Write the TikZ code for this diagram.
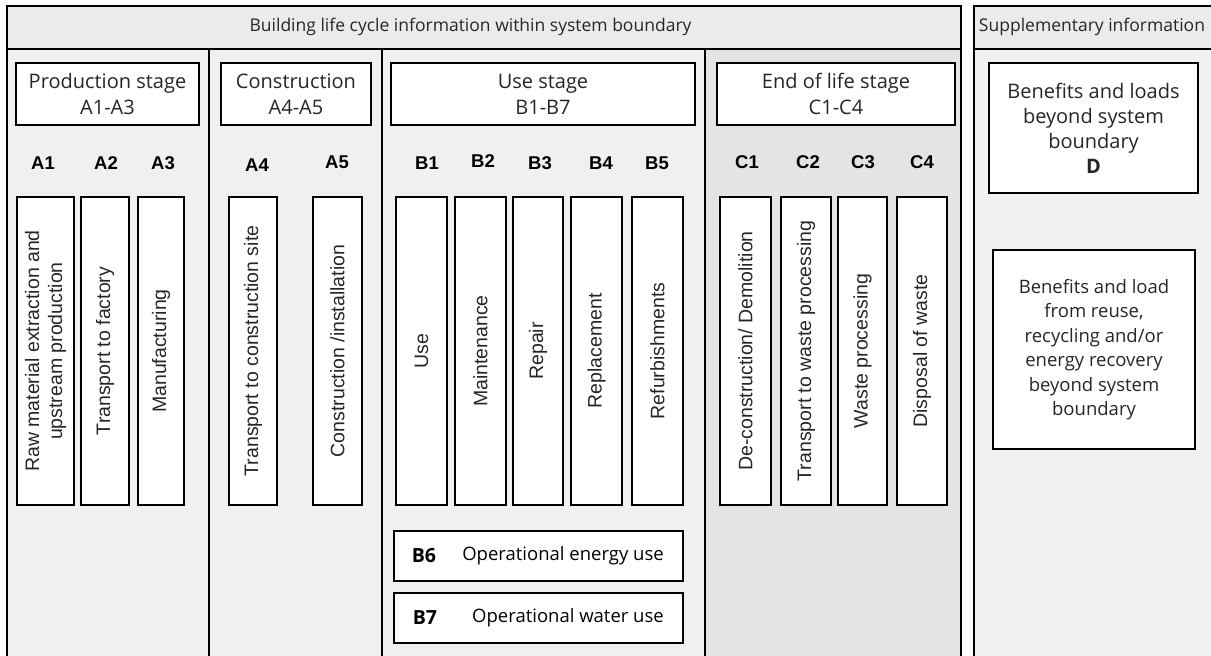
\documentclass[tikz,border=0pt]{standalone}
\usepackage{fontspec}
\setmainfont{Open Sans}
\newfontfamily\arialf{Liberation Sans}
\definecolor{colH}{HTML}{EBEBEB}
\definecolor{colA}{HTML}{F0F0F0}
\definecolor{colC}{HTML}{E4E4E4}
\definecolor{colS}{HTML}{F1F1F1}
\tikzset{
  lw/.style={line width=2pt, draw=black},
  wbox/.style={draw=black, line width=2pt, fill=white, inner sep=0pt, outer sep=0pt},
  stagetxt/.style={font=\fontsize{20}{26}\selectfont, align=center, inner sep=0pt},
  hdrtxt/.style={font=\fontsize{17.5}{21}\selectfont, inner sep=0pt, text=black!85},
  code/.style={font=\arialf\bfseries\fontsize{18.5}{20}\selectfont, inner sep=0pt},
  vbox/.style={wbox, rotate=90, minimum width=308pt, align=center,
     font=\arialf\fontsize{19.5}{23}\selectfont, text=black!85},
  optxt/.style={font=\fontsize{18.5}{22}\selectfont, inner sep=0pt},
  opcode/.style={font=\bfseries\fontsize{19.5}{22}\selectfont, inner sep=0pt},
  dtxt/.style={font=\fontsize{20}{25}\selectfont, align=center, inner sep=0pt},
  btxt/.style={font=\fontsize{18.5}{24.5}\selectfont, align=center, inner sep=0pt},
}
\begin{document}
\begin{tikzpicture}[x=1pt,y=-1pt]
\useasboundingbox (0,0) rectangle (1211,656);
\clip (0,0) rectangle (1211,656);
% backgrounds
\fill[colH] (7,6) rectangle (961,49);
\fill[colA] (7,49) rectangle (705,670);
\fill[colC] (705,49) rectangle (961,670);
\fill[colH] (974,6) rectangle (1220,49);
\fill[colS] (974,49) rectangle (1220,670);
% frame lines
\draw[lw] (7,670) -- (7,6) -- (961,6) -- (961,670);
\draw[lw] (7,49) -- (961,49);
\draw[lw] (209,49) -- (209,670);
\draw[lw] (382,49) -- (382,670);
\draw[lw] (705,49) -- (705,670);
\draw[lw] (974,670) -- (974,6) -- (1220,6);
\draw[lw] (974,49) -- (1220,49);
% headers
\node[hdrtxt] (hmain) at (470.5,27) {Building life cycle information within system boundary};
\node[hdrtxt] (hsupp) at (1092,27) {Supplementary information};
% stage boxes
\node[wbox, minimum width=183pt, minimum height=62pt] (prod) at (107.5,94) {};
\node[stagetxt, text=black!85] (prodt) at (prod.center) {Production stage\\A1-A3};
\node[wbox, minimum width=150pt, minimum height=62pt] (cons) at (296,94) {};
\node[stagetxt, text=black!85] (const) at (cons.center) {Construction\\A4-A5};
\node[wbox, minimum width=304pt, minimum height=62pt] (use) at (543,94) {};
\node[stagetxt, text=black!85] (uset) at (use.center) {Use stage\\B1-B7};
\node[wbox, minimum width=238pt, minimum height=62pt] (eol) at (836,94) {};
\node[stagetxt, text=black!85] (eolt) at (eol.center) {End of life stage\\C1-C4};
\node[wbox, minimum width=209pt, minimum height=130pt] (dbox) at (1093.5,128) {};
\node[dtxt, text=black!85] (dboxt) at (dbox.center) {Benefits and loads\\beyond system\\boundary\\\textbf{D}};
\node[wbox, minimum width=202pt, minimum height=199pt] (bbox) at (1094,349.5) {};
\node[btxt, text=black!85] (bboxt) at (bbox.center) {Benefits and load\\from reuse,\\recycling and/or\\energy recovery\\beyond system\\boundary};
% module codes
\node[code] (lA1) at (43,163) {A1};
\node[code] (lA2) at (106,163) {A2};
\node[code] (lA3) at (163,163) {A3};
\node[code] (lA4) at (257,165) {A4};
\node[code] (lA5) at (337,162) {A5};
\node[code] (lB1) at (427,163) {B1};
\node[code] (lB2) at (483,161) {B2};
\node[code] (lB3) at (540,163) {B3};
\node[code] (lB4) at (601,163) {B4};
\node[code] (lB5) at (657,163) {B5};
\node[code] (lC1) at (747,162) {C1};
\node[code] (lC2) at (808,162) {C2};
\node[code] (lC3) at (863,162) {C3};
\node[code] (lC4) at (922,162) {C4};
% vertical module boxes
\node[vbox, minimum height=57pt] (mA1) at (45.5,351) {Raw material extraction and\\upstream production};
\node[vbox, minimum height=48pt] (mA2) at (105,351) {Transport to factory};
\node[vbox, minimum height=46pt] (mA3) at (161,351) {Manufacturing};
\node[vbox, minimum height=48pt] (mA4) at (253,351) {Transport to construction site};
\node[vbox, minimum height=49pt] (mA5) at (337.5,351) {Construction /installation};
\node[vbox, minimum height=51pt] (mB1) at (421.5,351) {Use};
\node[vbox, minimum height=51pt] (mB2) at (480.5,351) {Maintenance};
\node[vbox, minimum height=50pt] (mB3) at (538,351) {Repair};
\node[vbox, minimum height=51pt] (mB4) at (596.5,351) {Replacement};
\node[vbox, minimum height=51pt] (mB5) at (657.5,351) {Refurbishments};
\node[vbox, minimum height=51pt] (mC1) at (745.5,351) {De-construction/ Demolition};
\node[vbox, minimum height=50pt] (mC2) at (806,351) {Transport to waste processing};
\node[vbox, minimum height=49pt] (mC3) at (862.5,351) {Waste processing};
\node[vbox, minimum height=50pt] (mC4) at (922,351) {Disposal of waste};
% B6 / B7
\node[wbox, minimum width=289pt, minimum height=50pt] (b6) at (538.5,556) {};
\node[opcode] (b6c) at (424,556) {B6};
\node[optxt] (b6t) at (563,556) {Operational energy use};
\node[wbox, minimum width=289pt, minimum height=50pt] (b7) at (538.5,618) {};
\node[opcode] (b7c) at (425,618) {B7};
\node[optxt] (b7t) at (568,618) {Operational water use};
\end{tikzpicture}
\end{document}
